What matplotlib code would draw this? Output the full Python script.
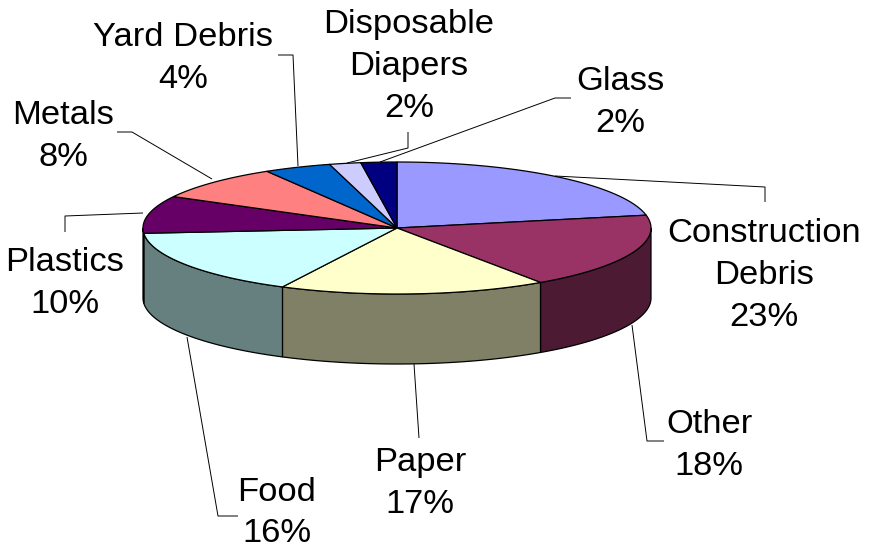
import numpy as np
import matplotlib
matplotlib.use('Agg')
import matplotlib.pyplot as plt
from matplotlib.patches import Polygon

plt.rcParams['font.family'] = ['Liberation Sans', 'DejaVu Sans']

names = ['Construction\nDebris', 'Other', 'Paper', 'Food', 'Plastics', 'Metals',
         'Yard Debris', 'Disposable\nDiapers', 'Glass']
shares = [23, 18, 17, 16, 10, 8, 4, 2, 2]
top_colors = ['#9999FF', '#993366', '#FFFFCC', '#CCFFFF', '#660066', '#FF8080',
              '#0066CC', '#CCCCFF', '#000080']
side_colors = ['#4D4D80', '#4D1A33', '#808066', '#668080', '#330033', '#804040',
               '#003366', '#666680', '#000040']

# label centre, then the leader line as drawn in the picture
label_pos = [(764, 275.5), (709, 445.5), (420, 483.5), (277, 513), (65, 283.5),
             (63, 136.5), (183, 58.5), (409, 66.5), (620, 102.5)]
leaders = [[(555, 176), (765, 187), (765, 202)],
           [(632, 325), (647, 441), (664, 441)],
           [(414, 364), (419, 438)],
           [(187, 337), (218, 516), (238, 516)],
           [(143, 213), (65, 216), (65, 232)],
           [(212, 179), (132, 132), (117, 132)],
           [(298, 166), (293, 55), (278, 55)],
           [(347, 163), (408, 148), (408, 132)],
           [(380, 162), (555, 98), (571, 98)]]

cx, cy, rx, ry, depth = 397, 228, 254, 66, 70
# the 3D view pulls the slice boundaries back a little, degrees per boundary
view_skew = [0, -4, -2, -2, -1, -4, -2, -1, -1, 0]

fig = plt.figure(figsize=(8.69, 5.49), dpi=100)
ax = fig.add_axes([0, 0, 1, 1])
ax.set_xlim(0, 869)
ax.set_ylim(549, 0)
ax.axis('off')


def rim(a0, a1):
    t = np.radians(np.linspace(a0, a1, 80))
    return cx + rx * np.sin(t), cy - ry * np.cos(t)


edges = 3.6 * np.concatenate([[0], np.cumsum(shares)]) + view_skew
for i in range(len(shares)):
    # only the part of the rim facing the viewer has a wall
    a0, a1 = max(edges[i], 90), min(edges[i + 1], 270)
    if a1 > a0:
        x, y = rim(a0, a1)
        wall = np.r_[np.c_[x, y], np.c_[x[::-1], y[::-1] + depth]]
        ax.add_patch(Polygon(wall, fc=side_colors[i], ec='black', lw=0.9, zorder=2))
for i in range(len(shares)):
    x, y = rim(edges[i], edges[i + 1])
    ax.add_patch(Polygon(np.r_[[(cx, cy)], np.c_[x, y]], fc=top_colors[i], ec='black',
                         lw=0.9, zorder=3))

for pts in leaders:
    px, py = zip(*pts)
    ax.plot(px, py, color='black', lw=0.7, zorder=1, solid_capstyle='butt')

for name, share, (lx, ly) in zip(names, shares, label_pos):
    ax.text(lx, ly, f'{name}\n{share}%', ha='center', va='center', fontsize=24.8,
            linespacing=1.44, color='black', zorder=5)

fig.savefig('out.png', dpi=100, facecolor='white')
